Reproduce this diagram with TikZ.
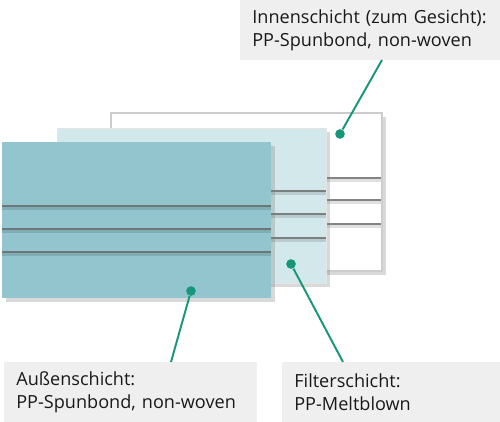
\documentclass[tikz,border=0pt]{standalone}
\usepackage{fontspec}
\setmainfont{Open Sans}
\usetikzlibrary{shadows}
\definecolor{frontfill}{HTML}{92C5CE}
\definecolor{midfill}{HTML}{D3E8EA}
\definecolor{labelfill}{HTML}{EFEFEF}
\definecolor{pingreen}{HTML}{17977A}

\begin{document}
\begin{tikzpicture}[
  x=0.02cm, y=-0.02cm,
  sheet/.style={drop shadow={shadow xshift=2pt, shadow yshift=-2pt, opacity=0.3}},
  crease/.style={line width=1.4pt, draw=black!60, opacity=0.75,
    preaction={draw=black, opacity=0.12, line width=3pt, transform canvas={yshift=-1pt}}},
  lbl/.style={rectangle, fill=labelfill, anchor=north west, inner xsep=0.24cm,
    inner ysep=0pt, minimum height=1.2cm, align=left, text=black!90,
    font=\fontsize{10.3}{13}\selectfont},
  pin/.style={circle, fill=pingreen, inner sep=0pt, minimum size=5.5pt},
  lead/.style={draw=pingreen, line width=1.1pt}
]
\useasboundingbox (0,0) rectangle (500,422);

% back layer (inner)
\filldraw[sheet, fill=white, draw=black!20, line width=0.6pt] (111,113) rectangle (382,271);
\foreach \y in {178,200,224}
  \draw[crease] (326,\y) -- (381,\y);

% middle layer (filter)
\filldraw[sheet, fill=midfill, draw=black!10, line width=0.4pt] (57,128) rectangle (326,283);
\foreach \y in {191,214,238}
  \draw[crease] (271,\y) -- (326,\y);

% front layer (outer)
\fill[sheet, frontfill] (2,142) rectangle (271,298);
\foreach \y in {206,229,252}
  \draw[crease] (2,\y) -- (271,\y);

% labels
\node[lbl, text width=4.72cm] (inner) at (240,0) {Innenschicht (zum Gesicht):\\PP-Spunbond, non-woven};
\node[lbl, text width=4.58cm] (outer) at (4,362) {Außenschicht:\\PP-Spunbond, non-woven};
\node[lbl, text width=3.88cm] (filter) at (282,362) {Filterschicht:\\PP-Meltblown};

% pins
\node[pin] (pininner) at (340,134) {};
\node[pin] (pinfilter) at (291,264) {};
\node[pin] (pinouter) at (191,291) {};
\coordinate (footinner) at (382,60);
\coordinate (footfilter) at (343,362);
\coordinate (footouter) at (171,362);

\draw[lead] (pininner) -- (footinner);
\draw[lead] (pinfilter) -- (footfilter);
\draw[lead] (pinouter) -- (footouter);
\end{tikzpicture}
\end{document}
